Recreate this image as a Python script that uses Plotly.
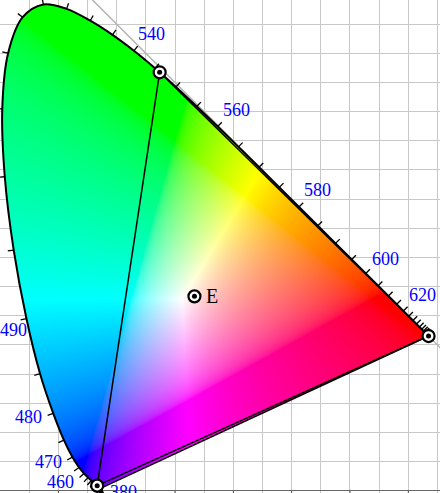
import base64
import struct
import zlib
import numpy as np
import plotly.graph_objects as go

# ---------------- data ----------------
wavelengths = list(range(380, 705, 5))
locus_x = [0.1741, 0.1740, 0.1738, 0.1736, 0.1733, 0.1730, 0.1726, 0.1721, 0.1714, 0.1703,
           0.1689, 0.1669, 0.1644, 0.1611, 0.1566, 0.1510, 0.1440, 0.1355, 0.1241, 0.1096,
           0.0913, 0.0687, 0.0454, 0.0235, 0.0082, 0.0039, 0.0139, 0.0389, 0.0743, 0.1142,
           0.1547, 0.1929, 0.2296, 0.2658, 0.3016, 0.3373, 0.3731, 0.4087, 0.4441, 0.4788,
           0.5125, 0.5448, 0.5752, 0.6029, 0.6270, 0.6482, 0.6658, 0.6801, 0.6915, 0.7006,
           0.7079, 0.7140, 0.7190, 0.7230, 0.7260, 0.7283, 0.7300, 0.7311, 0.7320, 0.7327,
           0.7334, 0.7340, 0.7344, 0.7346, 0.7347]
locus_y = [0.0050, 0.0050, 0.0049, 0.0049, 0.0048, 0.0048, 0.0048, 0.0048, 0.0051, 0.0058,
           0.0069, 0.0086, 0.0109, 0.0138, 0.0177, 0.0227, 0.0297, 0.0399, 0.0578, 0.0868,
           0.1327, 0.2007, 0.2950, 0.4127, 0.5384, 0.6548, 0.7502, 0.8120, 0.8338, 0.8262,
           0.8059, 0.7816, 0.7543, 0.7243, 0.6923, 0.6589, 0.6245, 0.5896, 0.5547, 0.5202,
           0.4866, 0.4544, 0.4242, 0.3965, 0.3725, 0.3514, 0.3340, 0.3197, 0.3083, 0.2993,
           0.2920, 0.2859, 0.2809, 0.2770, 0.2740, 0.2717, 0.2700, 0.2689, 0.2680, 0.2673,
           0.2666, 0.2660, 0.2656, 0.2654, 0.2653]

primary_names = ["435.8 nm", "546.1 nm", "700 nm"]
primary_x = [0.16658, 0.27368, 0.73469]
primary_y = [0.00886, 0.71743, 0.26531]

white_name = "E"
white_x = [1 / 3]
white_y = [1 / 3]

label_wavelengths = [380, 460, 470, 480, 490, 540, 560, 580, 600, 620]
axis_ticks = [0.1, 0.2, 0.3, 0.4, 0.5, 0.6, 0.7]

# ---------------- layout / style ----------------
W, H = 440, 493
X_RANGE = [0.0, 0.7543]
Y_RANGE = [-0.00377, 0.84143]
PX_PER_UNIT = W / (X_RANGE[1] - X_RANGE[0])
TICK_PX = 6
LABEL_SHIFT = {380: (22, -4), 460: (-24, -9), 470: (-24, -5), 480: (-25, -4),
               490: (-13, -11), 540: (18, 17), 560: (18.5, 17), 580: (18.5, 16.5),
               600: (19.5, 15), 620: (19, 16)}
SERIF = "Liberation Serif, Times New Roman, serif"

lx = np.array(locus_x)
ly = np.array(locus_y)


# ---------------- colour image of the gamut ----------------
def catmull_rom(px, py, n=12):
    pts = np.column_stack([px, py])
    ext = np.vstack([pts[0], pts, pts[-1]])
    out = []
    for i in range(1, len(ext) - 2):
        p0, p1, p2, p3 = ext[i - 1], ext[i], ext[i + 1], ext[i + 2]
        for t in np.linspace(0, 1, n, endpoint=False):
            t2, t3 = t * t, t * t * t
            out.append(0.5 * ((2 * p1) + (-p0 + p2) * t + (2 * p0 - 5 * p1 + 4 * p2 - p3) * t2
                              + (-p0 + 3 * p1 - 3 * p2 + p3) * t3))
    out.append(pts[-1])
    return np.array(out)


poly = catmull_rom(lx, ly)
poly = np.vstack([poly, poly[0]])

dx = (X_RANGE[1] - X_RANGE[0]) / W
dy = (Y_RANGE[1] - Y_RANGE[0]) / H
xs = X_RANGE[0] + (np.arange(W) + 0.5) * dx
ys = Y_RANGE[0] + (np.arange(H) + 0.5) * dy  # row 0 = lowest y

mask = np.zeros((H, W), dtype=bool)
x1, y1 = poly[:-1, 0], poly[:-1, 1]
x2, y2 = poly[1:, 0], poly[1:, 1]
for j, yv in enumerate(ys):
    cond = ((y1 <= yv) & (y2 > yv)) | ((y2 <= yv) & (y1 > yv))
    if not cond.any():
        continue
    xi = np.sort(x1[cond] + (yv - y1[cond]) * (x2[cond] - x1[cond]) / (y2[cond] - y1[cond]))
    cnt = np.searchsorted(xi, xs)
    mask[j] = (cnt % 2) == 1

XX, YY = np.meshgrid(xs, ys)
YYs = np.where(YY > 1e-4, YY, 1e-4)
Xc = XX / YYs
Yc = np.ones_like(XX)
Zc = (1 - XX - YYs) / YYs
M = np.array([[3.2406, -1.5372, -0.4986],
              [-0.9689, 1.8758, 0.0415],
              [0.0557, -0.2040, 1.0570]])
rgb = np.stack([M[k, 0] * Xc + M[k, 1] * Yc + M[k, 2] * Zc for k in range(3)], axis=-1)
rgb = np.clip(rgb, 0, None)
mx = rgb.max(axis=-1, keepdims=True)
mx[mx == 0] = 1
rgb = rgb / mx
rgb = np.where(rgb <= 0.0031308, 12.92 * rgb, 1.055 * np.power(rgb, 1 / 2.4) - 0.055)
rgba = np.zeros((H, W, 4), dtype=np.uint8)
rgba[..., :3] = np.clip(np.round(rgb * 255), 0, 255).astype(np.uint8)
rgba[..., 3] = np.where(mask, 255, 0).astype(np.uint8)


def png_uri(arr):
    h, w = arr.shape[:2]
    raw = b"".join(b"\x00" + arr[r].tobytes() for r in range(h))

    def chunk(tag, data):
        c = struct.pack(">I", len(data)) + tag + data
        return c + struct.pack(">I", zlib.crc32(tag + data) & 0xFFFFFFFF)

    png = (b"\x89PNG\r\n\x1a\n" + chunk(b"IHDR", struct.pack(">IIBBBBB", w, h, 8, 6, 0, 0, 0))
           + chunk(b"IDAT", zlib.compress(raw, 9)) + chunk(b"IEND", b""))
    return "data:image/png;base64," + base64.b64encode(png).decode()


fig = go.Figure()
fig.add_trace(go.Image(source=png_uri(rgba), x0=X_RANGE[0] + dx / 2, y0=Y_RANGE[0] + dy / 2,
                       dx=dx, dy=dy, hoverinfo="skip"))

# x + y = 1 reference line
diag_x = np.array([0.0, 1.0])
fig.add_trace(go.Scatter(x=diag_x, y=1 - diag_x, mode="lines",
                         line=dict(color="#b4b4b4", width=1.5), hoverinfo="skip"))

# bottom axis ticks
tx, ty = [], []
for t in axis_ticks:
    tx += [t, t, None]
    ty += [0, -0.006, None]
fig.add_trace(go.Scatter(x=tx, y=ty, mode="lines", line=dict(color="#555", width=1), hoverinfo="skip"))

# spectral locus
fig.add_trace(go.Scatter(x=lx, y=ly, mode="lines", line=dict(color="black", width=2, shape="spline"),
                         hoverinfo="skip"))
fig.add_trace(go.Scatter(x=[lx[-1], lx[0]], y=[ly[-1], ly[0]], mode="lines",
                         line=dict(color="black", width=1.5), hoverinfo="skip"))

# wavelength ticks (outward normals)
n = len(lx)
kx, ky = [], []
L = TICK_PX / PX_PER_UNIT
for i in range(n):
    a, b = max(i - 1, 0), min(i + 1, n - 1)
    tgx, tgy = lx[b] - lx[a], ly[b] - ly[a]
    nn = np.hypot(tgx, tgy)
    nx, ny = -tgy / nn, tgx / nn
    kx += [lx[i], lx[i] + nx * L, None]
    ky += [ly[i], ly[i] + ny * L, None]
fig.add_trace(go.Scatter(x=kx, y=ky, mode="lines", line=dict(color="black", width=1.3), hoverinfo="skip"))

# primaries triangle
fig.add_trace(go.Scatter(x=primary_x + primary_x[:1], y=primary_y + primary_y[:1], mode="lines",
                         line=dict(color="black", width=1.5), hoverinfo="skip"))

# markers
mx_all = primary_x + white_x
my_all = primary_y + white_y
fig.add_trace(go.Scatter(x=mx_all, y=my_all, mode="markers",
                         marker=dict(size=12, color="white", line=dict(color="black", width=2.2)),
                         hoverinfo="skip"))
fig.add_trace(go.Scatter(x=mx_all, y=my_all, mode="markers",
                         marker=dict(size=5, color="black", line=dict(width=0)), hoverinfo="skip"))

annotations = []
for wl in label_wavelengths:
    i = wavelengths.index(wl)
    sx, sy = LABEL_SHIFT[wl]
    annotations.append(dict(x=lx[i], y=ly[i], text=str(wl), showarrow=False, xanchor="center",
                            yanchor="middle", xshift=sx, yshift=sy,
                            font=dict(family=SERIF, size=18, color="#0000ff")))
annotations.append(dict(x=white_x[0], y=white_y[0], text=white_name, showarrow=False,
                        xanchor="center", yanchor="middle", xshift=18, yshift=0,
                        font=dict(family=SERIF, size=20, color="black")))

fig.update_layout(
    width=W, height=H, margin=dict(l=0, r=0, t=0, b=0, pad=0), autosize=False,
    paper_bgcolor="white", plot_bgcolor="white", showlegend=False,
    annotations=annotations,
    xaxis=dict(range=X_RANGE, autorange=False, scaleanchor=False, constrain="range",
               dtick=0.05, tick0=0, showgrid=True, gridcolor="#c8c8c8", gridwidth=1.4,
               zeroline=False, showticklabels=False, ticks="", showline=False, fixedrange=True,
               automargin=False),
    yaxis=dict(range=Y_RANGE, autorange=False, scaleanchor=False, constrain="range",
               dtick=0.05, tick0=0, showgrid=True, gridcolor="#c8c8c8", gridwidth=1.4,
               zeroline=True, zerolinecolor="#666666", zerolinewidth=1.2,
               showticklabels=False, ticks="", showline=False, fixedrange=True, automargin=False),
)

fig.write_html("out.html", config={"responsive": False, "displayModeBar": False},
               post_script="document.body.style.margin='0';document.body.style.overflow='hidden';")
